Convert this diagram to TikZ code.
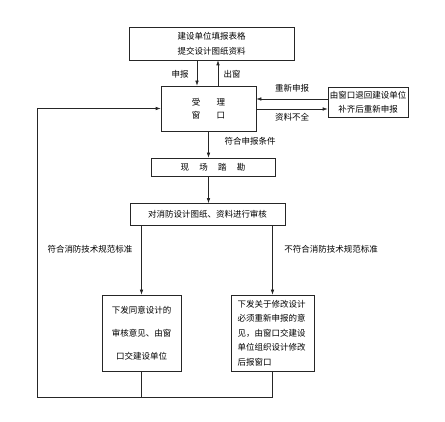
\documentclass[tikz,border=0pt]{standalone}
\usepackage{fontspec}
\setmainfont{Noto Sans CJK SC}
\usetikzlibrary{arrows.meta,positioning}

\begin{document}
\begin{tikzpicture}[x=1pt,y=-1pt,font=\fontsize{8.5}{15}\selectfont,
  box/.style={draw,inner sep=0pt,align=center},
  arr/.style={-{Latex[length=5pt,width=3.5pt]}},
  line width=0.6pt,draw=black!85]
\useasboundingbox[fill=white] (0,0) rectangle (445,422);
\node[box,minimum width=165pt,minimum height=33pt] (form) at (211.5,43.5) {建设单位填报表格\\提交设计图纸资料};
\node[box,minimum width=95pt,minimum height=45pt,font=\fontsize{8.5}{13}\selectfont] (accept) at (208.5,108.5) {受\hspace{1.9em}理\\窗\hspace{1.9em}口};
\node[box,minimum width=80pt,minimum height=30pt,font=\fontsize{8.5}{14}\selectfont] (back) at (368,102) {由窗口退回建设单位\\补齐后重新申报};
\node[box,minimum width=124pt,minimum height=18pt] (site) at (213,167) {现\hspace{1.2em}场\hspace{1.2em}踏\hspace{1.2em}勘};
\node[box,minimum width=155pt,minimum height=22pt] (review) at (207.5,214.5) {对消防设计图纸、资料进行审核};
\node[box,minimum width=79pt,minimum height=76pt,font=\fontsize{8.5}{23}\selectfont] (ok) at (141.5,333) {下发同意设计的\\审核意见、由窗\\口交建设单位};
\node[box,minimum width=83pt,minimum height=76pt,text width=70pt,align=left,font=\fontsize{8.5}{14.6}\selectfont] (fix) at (272.5,333) {下发关于修改设计\\必须重新申报的意\\见，由窗口交建设\\单位组织设计修改\\后报窗口};
\coordinate (loop) at (37,397);

% connectors
\draw[arr] ([xshift=-11.5pt]accept.north |- form.south) -- ([xshift=-11.5pt]accept.north);
\draw[arr] ([xshift=9.5pt]accept.north) -- ([xshift=9.5pt]accept.north |- form.south);
\draw[arr] ([yshift=3pt]back.west) -- ([yshift=3pt]back.west -| accept.east);
\draw[arr] ([yshift=-7pt]back.west -| accept.east) -- ([yshift=-7pt]back.west);
\draw[arr] (accept.south) -- (accept.south |- site.north);
\draw[arr] (accept.south |- site.south) -- (accept.south |- review.north);
\draw[arr] (ok.north |- review.south) -- (ok.north);
\draw[arr] (fix.north |- review.south) -- (fix.north);
\draw (ok.south) -- (ok.south |- loop);
\draw[arr] (fix.south) -- (fix.south |- loop) -- (loop) |- (accept.west);

% labels
\node (lsb) at (180,74) {申报};
\node (lcc) at (232,74) {出窗};
\node (lcx) at (292,88) {重新申报};
\node (lbq) at (292,117) {资料不全};
\node (ltj) at (250,141) {符合申报条件};
\node (lfh) at (90,249) {符合消防技术规范标准};
\node (lbf) at (331,249) {不符合消防技术规范标准};
\end{tikzpicture}
\end{document}
